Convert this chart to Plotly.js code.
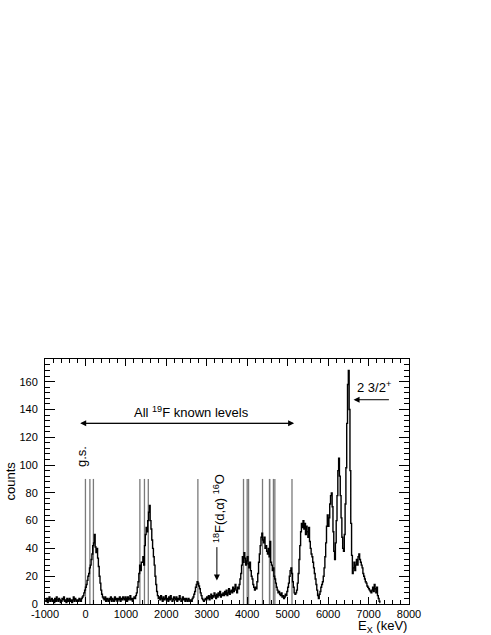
<!DOCTYPE html>
<html>
<head>
<meta charset="utf-8">
<script src="https://cdn.plot.ly/plotly-3.0.1.min.js"></script>
<style>
  body { margin: 0; background: #fff; }
  #spec { width: 491px; height: 635px; }
</style>
</head>
<body>
<div id="spec"></div>
<script>
// histogram: 20 keV bins starting at -1000 keV
var binStart = -1000;
var binWidth = 20;
var counts = [
  3,2,4,1,3,5,2,3,4,2,   3,1,4,2,5,3,2,4,3,1,
  2,4,3,5,2,3,1,4,2,3,   4,2,3,1,3,5,2,4,3,2,
  3,2,4,3,2,4,5,6,8,10,  12,14,17,20,22,26,28,32,36,42,
  44,50,41,37,40,33,27,20,15,10,  7,5,4,3,5,2,4,3,2,4,
  3,5,2,4,3,2,5,3,4,2,   4,3,5,2,4,3,5,4,3,5,
  4,2,5,3,4,6,3,4,2,4,   5,4,6,8,12,16,22,28,24,30,
  30,34,28,42,50,55,52,60,66,71,  60,54,46,40,34,28,20,14,9,6,
  4,5,3,6,4,2,5,3,4,6,   3,4,2,5,3,6,4,2,3,5,
  4,3,5,2,4,3,6,4,2,3,   5,3,4,2,4,3,2,4,3,2,
  3,2,4,5,7,9,12,14,16,15,  13,11,8,6,4,3,2,3,4,3,
  5,4,6,3,5,7,4,6,5,8,   6,4,7,5,8,6,9,5,7,6,
  8,6,9,7,10,6,8,11,7,9,  10,8,12,9,11,14,10,8,12,11,
  14,18,22,28,34,30,37,33,28,31,  34,29,26,30,24,20,18,14,12,10,
  12,11,16,22,30,36,42,48,51,46,  44,48,40,42,38,36,40,34,45,30,
  28,24,26,20,18,15,12,10,8,9,   7,6,8,5,6,4,5,7,6,9,
  12,15,20,24,26,22,16,12,8,7,   8,10,15,22,32,42,52,58,55,60,
  54,58,50,56,52,48,55,45,40,36,  34,30,26,22,18,14,10,6,4,7,
  9,12,14,16,20,26,34,44,56,64,   56,62,72,78,80,70,52,38,32,44,
  60,78,96,105,92,78,62,48,40,38,  50,72,98,130,158,168,140,96,58,35,
  22,26,30,24,28,32,28,34,36,32,  30,28,26,22,20,18,16,15,13,12,
  11,10,9,8,10,12,9,14,11,8,   12,6,4,2,1
];

// known 19F levels (keV)
var levels = [0, 110, 197, 1346, 1459, 1554, 2780, 3908, 3999, 4033,
              4378, 4550, 4556, 4648, 4683, 5107];
var levelTop = 90;

// axis labels (plain hyphen like the original)
var xTicks = [-1000, 0, 1000, 2000, 3000, 4000, 5000, 6000, 7000, 8000];
var xTickText = ['-1000', '0', '1000', '2000', '3000', '4000', '5000', '6000', '7000', '8000'];

var trace1 = {
  y: counts,
  x0: binStart + binWidth / 2,
  dx: binWidth,
  type: 'scatter',
  mode: 'lines',
  line: { color: 'black', width: 1.4, shape: 'hvh' },
  hoverinfo: 'skip'
};

var shapes = levels.map(function (e) {
  return {
    type: 'line', xref: 'x', yref: 'y',
    x0: e, x1: e, y0: 0, y1: levelTop,
    line: { color: '#7a7a7a', width: 1.3 },
    layer: 'below'
  };
});

var txt = { family: 'Liberation Sans, Arial, sans-serif', size: 13, color: 'black' };

function arrow(x, y, ax, ay) {
  return { xref: 'x', yref: 'y', axref: 'x', ayref: 'y', x: x, y: y, ax: ax, ay: ay,
    text: '', showarrow: true, arrowhead: 2, arrowsize: 1.2, arrowwidth: 1,
    arrowcolor: 'black', standoff: 0, startstandoff: 0 };
}

var layout = {
  width: 491,
  height: 635,
  margin: { l: 45, r: 82, t: 359, b: 31 },
  paper_bgcolor: 'white',
  plot_bgcolor: 'white',
  showlegend: false,
  font: { family: 'Liberation Sans, Arial, sans-serif', size: 11, color: 'black' },
  xaxis: {
    range: [-1000, 8000],
    tickmode: 'array', tickvals: xTicks, ticktext: xTickText,
    ticks: 'inside', ticklen: 7, tickcolor: 'black',
    minor: { dtick: 200, tick0: 0, ticks: 'inside', ticklen: 4, tickcolor: 'black' },
    showline: true, linecolor: 'black', linewidth: 1, mirror: 'ticks',
    showgrid: false, zeroline: false,
    tickfont: { size: 11 }
  },
  yaxis: {
    range: [0, 176.3],
    dtick: 20, tick0: 0,
    ticks: 'inside', ticklen: 10, tickcolor: 'black',
    minor: { dtick: 4, ticks: 'inside', ticklen: 5, tickcolor: 'black' },
    showline: true, linecolor: 'black', linewidth: 1, mirror: 'ticks',
    showgrid: false, zeroline: false,
    ticklabelstandoff: 4,
    tickfont: { size: 11 }
  },
  shapes: shapes,
  annotations: [
    // axis titles
    { xref: 'paper', yref: 'paper', x: -0.096, y: 0.5, text: 'counts',
      textangle: -90, showarrow: false, font: txt, xanchor: 'center', yanchor: 'middle' },
    { xref: 'paper', yref: 'paper', x: 1.0, y: -0.05, text: 'E<sub>X</sub> (keV)',
      showarrow: false, font: txt, xanchor: 'right', yanchor: 'top' },
    // double arrow for known levels
    arrow(-130, 130, 5160, 130),
    arrow(5160, 130, -130, 130),
    { xref: 'x', yref: 'y', x: 2614, y: 138, text: 'All <sup>19</sup>F known levels',
      showarrow: false, font: txt, yanchor: 'middle' },
    // ground state
    { xref: 'x', yref: 'y', x: -100, y: 106, text: 'g.s.', textangle: -90,
      showarrow: false, font: txt },
    // 18F(d,a)16O
    { xref: 'x', yref: 'y', x: 3300, y: 69, text: '<sup>18</sup>F(d,\u03b1) <sup>16</sup>O',
      textangle: -90, showarrow: false, font: txt },
    arrow(3250, 17, 3250, 42),
    // 2 3/2+
    { xref: 'x', yref: 'y', x: 7140, y: 156, text: '2 3/2<sup>+</sup>',
      showarrow: false, font: txt },
    arrow(6630, 147, 7540, 147)
  ]
};

var options = { displayModeBar: false, staticPlot: true };

Plotly.newPlot('spec', [trace1], layout, options);
</script>
</body>
</html>
